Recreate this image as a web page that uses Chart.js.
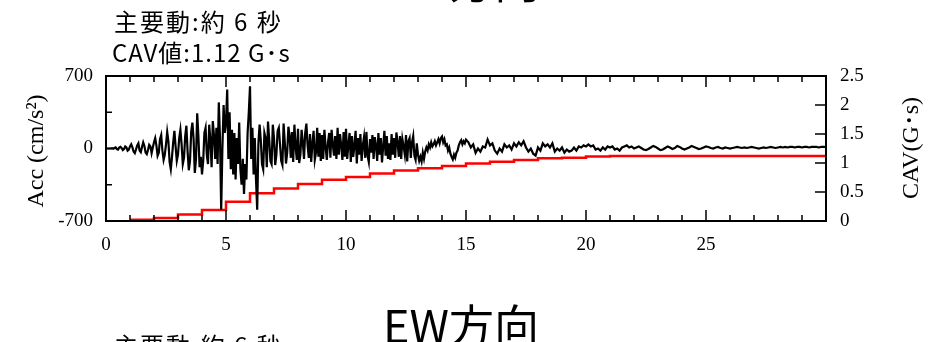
<!DOCTYPE html>
<html>
<head>
<meta charset="utf-8">
<script src="https://cdn.jsdelivr.net/npm/chart.js@4.4.1/dist/chart.umd.min.js"></script>
<style>
  html, body { margin: 0; padding: 0; background: #fff; }
  #wrap { width: 934px; height: 342px; }
</style>
</head>
<body>
<div id="wrap"><canvas id="grafico" width="934" height="342"></canvas></div>
<script>
// aceleracion 0-15 s, cada 0.05 s (cm/s2)
const accPaso1 = 0.05;
const acc1 = [
  0, 0, 0, 0, 0, 3, -3, 5, 10, -5, -10, 8, 15, 5, -15, -5, 20, 10, -20, -10,
  20, 40, 10, -30, -45, -10, 30, 50, -20, -35, 15, 60, 25, -40, -55, -15, 35, 20, -45, 10,
  60, 100, 30, -70, -40, 90, 130, -20, -110, -60, 40, 160, 70, -130, -200, -80, 60, 170, 20, -120,
  -60, 100, 180, 40, -150, -90, 120, 220, -30, -210, -120, 160, 250, 90, -235, -100, 340, 120, -180, -80,
  -250, -120, 150, 200, -60, -150, 230, 80, -180, 265, 120, -100, 200, -150, 445, 100, -590, 0, 420, 150,
  250, 570, -100, 350, -200, 180, -250, 150, -300, 100, -150, 250, -200, -350, -100, -440, -150, -300, 150, 350,
  600, -100, 200, -250, 100, -300, -590, 50, 230, 80, -150, -200, 150, 100, -180, 260, 90, -120, -150, 230,
  100, -160, -60, 170, 200, 40, -120, -160, 240, 60, -145, -40, 210, 120, -90, 160, -130, 230, 20, -110,
  190, -140, -60, 180, 60, -100, 150, 240, 30, -90, 140, -130, 50, 170, -110, -40, 200, -80, 150, -120,
  130, -100, 180, 20, -110, 60, 150, -90, 180, 40, -70, 120, -100, 200, -60, 140, 30, -110, 160, -80,
  190, -100, 40, 150, -130, 120, -80, 20, 170, -145, 100, -60, 140, -120, 30, 110, -90, 160, -70, -130,
  90, -40, 130, -100, 110, 30, -120, 150, -60, 100, -135, 20, 170, -70, 120, -100, 50, -110, 140, -60,
  100, -90, 155, 60, -80, 120, -100, 90, 20, -60, 130, -125, 70, 100, -90, 60, 120, -70, -110, 50,
  -60, -120, -80, -125, -40, -100, -30, 10, -20, 40, 10, 60, 20, 40, 70, 30, 60, 90, 50, 100,
  116, 60, 90, 30, 40, -20, 10, -50, -80, -106, -60, -90, -40, -20, 30, 60, 80, 40, 70, 50,
  85
];
// aceleracion 15.1-30 s, cada 0.1 s
const accInicio2 = 15.1;
const accPaso2 = 0.1;
const acc2 = [
  60, 10, 40, -42, 0, -30, 20, 10, 87, 30,
  50, -20, -50, 0, -30, 40, 10, 30, -10, 50,
  20, 60, 30, 70, 10, -30, 0, -50, -68, 10,
  -20, 50, 20, 40, 10, 50, -30, 0, -20, 10,
  -40, -10, -30, -20, 10, -20, 20, 10, 30, 20,
  40, 20, 30, -10, 0, -20, 10, -10, 20, 10,
  20, -10, 0, -20, 10, 20, 30, 10, 20, 0,
  10, 20, 5, -10, -15, -5, 10, 25, 15, 0,
  -15, -10, 5, 20, 10, -5, 5, 25, 15, 0,
  -10, 0, 10, 25, 15, 5, -5, 0, 10, 20,
  15, 5, 0, 10, 15, 5, 0, 10, 5, 0,
  5, 10, 15, 10, 5, 10, 5, 10, 15, 10,
  5, 0, 5, 10, 5, 10, 15, 10, 5, 10,
  15, 10, 15, 10, 15, 15, 10, 15, 15, 10,
  15, 15, 10, 15, 15, 15, 10, 15, 15, 15
];
// CAV acumulado (G·s), un valor por segundo
const cavTiempos = [1, 2, 3, 4, 5, 6, 7, 8, 9, 10, 11, 12, 13, 14, 15, 16, 17, 18, 19, 20, 21, 22, 23, 24, 25, 26, 27, 28, 29, 30];
const cavValores = [0.02, 0.05, 0.11, 0.19, 0.33, 0.48, 0.56, 0.64, 0.71, 0.76, 0.82, 0.87, 0.91, 0.95, 0.99,
  1.02, 1.05, 1.08, 1.09, 1.11, 1.12, 1.12, 1.12, 1.12, 1.12, 1.12, 1.12, 1.12, 1.12, 1.12];

const ticksX = [0, 5, 10, 15, 20, 25];
const ticksAcc = [-700, 0, 700];
const ticksCav = [0, 0.5, 1, 1.5, 2, 2.5];

const textoTitulo = 'NS方向';
const textoTitulo2 = 'EW方向';
const textoPrincipal = '主要動:約 6 秒';
const textoCav = 'CAV値:1.12 G･s';
const tituloAcc = 'Acc (cm/s²)';
const tituloCav = 'CAV(G･s)';

const puntosAcc = acc1.map((v, i) => ({ x: +(i * accPaso1).toFixed(2), y: v }))
  .concat(acc2.map((v, i) => ({ x: +(accInicio2 + i * accPaso2).toFixed(2), y: v })));
const puntosCav = cavTiempos.map((t, i) => ({ x: t, y: cavValores[i] }));

const fuenteTicks = { family: '"Liberation Serif", "Times New Roman", serif', size: 19 };
const jp = '"Noto Sans CJK JP", "Noto Sans", sans-serif';

const marco = {
  id: 'marco',
  afterDatasetsDraw(chart) {
    const { ctx, chartArea: a, scales } = chart;
    ctx.save();
    ctx.strokeStyle = '#000';
    ctx.lineWidth = 2;
    ctx.strokeRect(a.left, a.top, a.right - a.left, a.bottom - a.top);
    ctx.lineWidth = 1.5;
    ctx.beginPath();
    for (let s = 1; s < 30; s++) {
      const x = scales.x.getPixelForValue(s);
      const l = s % 5 === 0 ? 11 : 6;
      ctx.moveTo(x, a.bottom); ctx.lineTo(x, a.bottom - l);
      ctx.moveTo(x, a.top); ctx.lineTo(x, a.top + l);
    }
    for (let v = -350; v <= 350; v += 350) {
      const y = scales.y.getPixelForValue(v);
      ctx.moveTo(a.left, y); ctx.lineTo(a.left + 6, y);
    }
    for (let v = 0.5; v < 2.5; v += 0.5) {
      const y = scales.y2.getPixelForValue(v);
      ctx.moveTo(a.right, y); ctx.lineTo(a.right - 11, y);
    }
    ctx.stroke();
    ctx.restore();
  },
  afterDraw(chart) {
    const { ctx } = chart;
    ctx.save();
    ctx.fillStyle = '#000';
    // titulos de ejes (girados)
    ctx.textAlign = 'center';
    ctx.textBaseline = 'middle';
    ctx.font = '24px "Liberation Serif", "Noto Sans CJK JP", serif';
    ctx.save();
    ctx.translate(37, 151);
    ctx.rotate(-Math.PI / 2);
    ctx.fillText(tituloAcc, 0, 0);
    ctx.restore();
    ctx.save();
    ctx.translate(912, 148);
    ctx.rotate(-Math.PI / 2);
    ctx.fillText(tituloCav, 0, 0);
    ctx.restore();
    // textos japoneses
    ctx.textAlign = 'left';
    ctx.textBaseline = 'alphabetic';
    ctx.font = '24px ' + jp;
    ctx.letterSpacing = '2px';
    ctx.fillText(textoPrincipal, 114, 31);
    ctx.fillText(textoPrincipal, 114, 355);
    ctx.letterSpacing = '1px';
    ctx.fillText(textoCav, 112, 62);
    ctx.letterSpacing = '0px';
    ctx.font = '45px ' + jp;
    ctx.fillText(textoTitulo, 390, -1);
    ctx.fillText(textoTitulo2, 383, 343);
    ctx.restore();
  }
};

new Chart(document.getElementById('grafico'), {
  type: 'line',
  data: {
    datasets: [
      { label: 'Acc', data: puntosAcc, yAxisID: 'y', borderColor: '#000', borderWidth: 2.2, pointRadius: 0, tension: 0 },
      { label: 'CAV', data: puntosCav, yAxisID: 'y2', borderColor: '#ff0000', borderWidth: 2.5, pointRadius: 0, stepped: true }
    ]
  },
  options: {
    responsive: false,
    animation: false,
    events: [],
    layout: { padding: { top: 76, left: 0, right: 0, bottom: 0 } },
    plugins: { legend: { display: false }, tooltip: { enabled: false } },
    scales: {
      x: {
        type: 'linear', min: 0, max: 30,
        grid: { display: false }, border: { display: false },
        ticks: { font: fuenteTicks, color: '#000', padding: 5, maxRotation: 0, autoSkip: false, callback: v => String(v) },
        afterBuildTicks: s => { s.ticks = ticksX.map(v => ({ value: v })); },
        afterFit: s => { s.height = 121; }
      },
      y: {
        position: 'left', min: -700, max: 700,
        grid: { display: false }, border: { display: false },
        ticks: { font: fuenteTicks, color: '#000', padding: 5, callback: v => String(v) },
        afterBuildTicks: s => { s.ticks = ticksAcc.map(v => ({ value: v })); },
        afterFit: s => { s.width = 106; }
      },
      y2: {
        position: 'right', min: 0, max: 2.5,
        grid: { display: false }, border: { display: false },
        ticks: { font: fuenteTicks, color: '#000', padding: 6, callback: v => String(v) },
        afterBuildTicks: s => { s.ticks = ticksCav.map(v => ({ value: v })); },
        afterFit: s => { s.width = 108; }
      }
    }
  },
  plugins: [marco]
});
</script>
</body>
</html>
